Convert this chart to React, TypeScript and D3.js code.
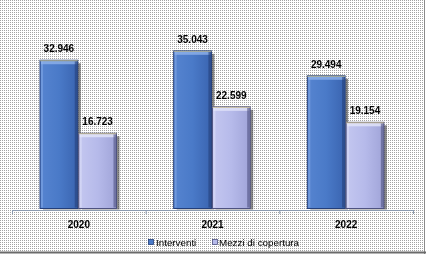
import React from "react";
import * as d3 from "d3";

const years = ["2020", "2021", "2022"];
const seriesNames = ["Interventi", "Mezzi di copertura"];
const interventi = [32.946, 35.043, 29.494];
const mezzi = [16.723, 22.599, 19.154];
const valueLabels = [
  ["32.946", "35.043", "29.494"],
  ["16.723", "22.599", "19.154"],
];

const W = 426;
const H = 254;

export default function App() {
  const x = d3.scaleBand<string>().domain(years).range([12, 413]).paddingInner(0).paddingOuter(0);
  const inner = d3.scaleBand<string>().domain(seriesNames).range([28, 105.5]).padding(0);
  const y = d3.scaleLinear().domain([0, 40]).range([208.5, 28.5]);
  const series = [interventi, mezzi];
  const fills = ["url(#gBlue)", "url(#gLav)"];
  const strokes = ["#243f7a", "#4e5280"];
  const tops = ["#8fb2ea", "#e4e6fa"];
  const ticks = [0, 1, 2, 3].map((i) => 12 + i * x.bandwidth());
  const font = "'Liberation Sans', Arial, sans-serif";

  return (
    <div style={{ position: "fixed", left: 0, top: 0 }}>
      <svg width={W} height={H} style={{ display: "block" }}>
        <defs>
          <pattern id="dots" width="2" height="2" patternUnits="userSpaceOnUse">
            <rect width="2" height="2" fill="#ffffff" />
            <rect width="1" height="1" fill="#a2a2a2" />
          </pattern>
          <linearGradient id="gBlue" x1="0" x2="1" y1="0" y2="0">
            <stop offset="0" stopColor="#5684d0" />
            <stop offset="0.5" stopColor="#4a7ac8" />
            <stop offset="1" stopColor="#3a64b0" />
          </linearGradient>
          <linearGradient id="gLav" x1="0" x2="1" y1="0" y2="0">
            <stop offset="0" stopColor="#c4c7f0" />
            <stop offset="0.5" stopColor="#b6baea" />
            <stop offset="1" stopColor="#a0a4d8" />
          </linearGradient>
        </defs>
        <rect x={0} y={0} width={W} height={H} fill="url(#dots)" />
        <line x1={W - 1.5} y1={0} x2={W - 1.5} y2={H} stroke="#8a8a8a" strokeWidth={1} />
        <line x1={0} y1={H - 1.5} x2={W} y2={H - 1.5} stroke="#6a6a6a" strokeWidth={2} />

        {series.map((vals, si) =>
          years.map((yr, i) => {
            const bx = (x(yr) as number) + (inner(seriesNames[si]) as number);
            const bw = inner.bandwidth() - 1;
            const by = y(vals[i]);
            const bh = y(0) - by;
            return (
              <g key={`${si}-${i}`}>
                <rect x={bx + 3} y={by + 3} width={bw} height={bh - 2} fill="#4a4a4a" opacity={0.65} />
                <rect x={bx} y={by} width={bw} height={bh} fill={fills[si]} stroke={strokes[si]} strokeWidth={1} />
                <rect x={bx + 1} y={by + 1} width={bw - 2} height={3} fill={tops[si]} opacity={0.8} />
                <rect x={bx + 1} y={by + 1} width={2} height={bh - 2} fill={tops[si]} opacity={0.45} />
                <rect x={bx + bw - 3} y={by + 1} width={2.5} height={bh - 2} fill={strokes[si]} opacity={0.6} />
                <line x1={bx} y1={by + 0.5} x2={bx + bw} y2={by + 0.5} stroke="#e8d890" strokeWidth={1} opacity={0.7} />
                <text
                  x={bx + bw / 2}
                  y={by - 8}
                  textAnchor="middle"
                  fontFamily={font}
                  fontWeight="bold"
                  fontSize={10}
                  fill="#000"
                >
                  {valueLabels[si][i]}
                </text>
              </g>
            );
          })
        )}

        <line x1={12} y1={210.5} x2={413} y2={210.5} stroke="#8a9ab0" strokeWidth={1} />
        {ticks.map((t, i) => (
          <line key={i} x1={t + 0.5} y1={210} x2={t + 0.5} y2={214} stroke="#8a9ab0" strokeWidth={1} />
        ))}
        {years.map((yr) => (
          <text
            key={yr}
            x={(x(yr) as number) + x.bandwidth() / 2}
            y={228}
            textAnchor="middle"
            fontFamily={font}
            fontWeight="bold"
            fontSize={10}
            fill="#000"
          >
            {yr}
          </text>
        ))}

        <g>
          <rect x={148.5} y={239.5} width={5} height={5} fill="#4a7ac8" stroke="#243f7a" strokeWidth={0.8} />
          <text x={156} y={246} fontFamily={font} fontSize={9.8} fill="#000">
            {seriesNames[0]}
          </text>
          <rect x={212.5} y={239.5} width={5} height={5} fill="#b6baea" stroke="#4e5280" strokeWidth={0.8} />
          <text x={219} y={246} fontFamily={font} fontSize={9.8} fill="#000">
            {seriesNames[1]}
          </text>
        </g>
      </svg>
    </div>
  );
}
